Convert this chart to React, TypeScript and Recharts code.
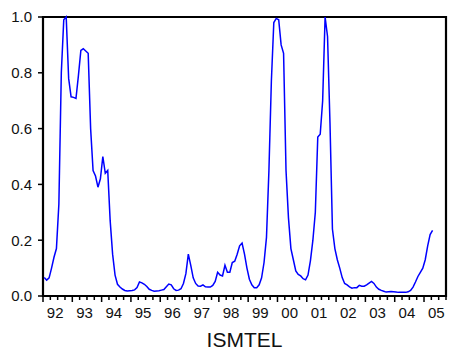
import {
  LineChart,
  Line,
  XAxis,
  YAxis,
  ReferenceArea,
} from "recharts";

// monthly observations, 1992M01 .. 2005M04
const ismtel: number[] = [
  // 1992
  0.066, 0.057, 0.065, 0.1, 0.139, 0.17, 0.33, 0.8, 0.99, 1.0, 0.78, 0.714,
  // 1993
  0.712, 0.708, 0.79, 0.88, 0.886, 0.878, 0.87, 0.6, 0.45, 0.43, 0.39, 0.42,
  // 1994
  0.5, 0.44, 0.45, 0.27, 0.15, 0.075, 0.042, 0.032, 0.025, 0.02, 0.018, 0.019,
  // 1995
  0.02, 0.022, 0.03, 0.05, 0.047, 0.042, 0.034, 0.024, 0.02, 0.017, 0.018, 0.019,
  // 1996
  0.021, 0.023, 0.033, 0.043, 0.04, 0.026, 0.02, 0.021, 0.026, 0.045, 0.08, 0.15,
  // 1997
  0.11, 0.065, 0.045, 0.036, 0.035, 0.04, 0.033, 0.032, 0.032, 0.038, 0.052, 0.085,
  // 1998
  0.075, 0.072, 0.11, 0.085, 0.085, 0.12, 0.125, 0.15, 0.18, 0.19, 0.15, 0.1,
  // 1999
  0.06, 0.04, 0.03, 0.03, 0.04, 0.065, 0.12, 0.21, 0.45, 0.77, 0.98, 0.995,
  // 2000
  0.99, 0.9, 0.87, 0.45, 0.28, 0.17, 0.13, 0.09, 0.077, 0.072, 0.062, 0.058,
  // 2001
  0.075, 0.127, 0.2, 0.3, 0.57, 0.58, 0.7, 1.0, 0.93, 0.62, 0.24, 0.17,
  // 2002
  0.13, 0.1, 0.066, 0.045, 0.04, 0.033, 0.028, 0.03, 0.03, 0.038, 0.035, 0.035,
  // 2003
  0.04, 0.046, 0.052, 0.045, 0.032, 0.024, 0.02, 0.017, 0.014, 0.015, 0.016, 0.015,
  // 2004
  0.014, 0.013, 0.013, 0.013, 0.013, 0.015, 0.02, 0.032, 0.05, 0.07, 0.085, 0.1,
  // 2005
  0.13, 0.18, 0.22, 0.235,
];

const years = ["92", "93", "94", "95", "96", "97", "98", "99", "00", "01", "02", "03", "04", "05"];
const yTicks = [0, 0.2, 0.4, 0.6, 0.8, 1.0];

// sample runs 1992M01 .. 2005M09
const nMonths = 165;

const data = ismtel.map((v, i) => ({ i, v }));

const quarterTicks = Array.from({ length: nMonths / 3 + 1 }, (_, q) => q * 3 - 0.5);
const labelTicks = years.map((_, k) => k * 12 + 4.5);
const xTicks = [...quarterTicks, ...labelTicks];

const PLOT_BOTTOM = 296;

const XTick = (props: any) => {
  const { x, payload } = props;
  const v: number = payload.value;
  const k = labelTicks.indexOf(v);
  if (k >= 0) {
    return (
      <text x={x} y={318} textAnchor="middle" fontSize={15} fill="#111">
        {years[k]}
      </text>
    );
  }
  const major = (v + 0.5) % 12 === 0;
  return (
    <line
      x1={x}
      x2={x}
      y1={PLOT_BOTTOM}
      y2={PLOT_BOTTOM + (major ? 6 : 4)}
      stroke="#000"
      strokeWidth={1.5}
    />
  );
};

const App = () => {
  return (
    <div
      style={{
        position: "absolute",
        left: 0,
        top: 0,
        width: 449,
        height: 358,
        background: "#fff",
        fontFamily: "'Liberation Sans', Arial, sans-serif",
      }}
    >
      <LineChart
        width={449}
        height={358}
        data={data}
        margin={{ top: 17, right: 3, bottom: 0, left: 0 }}
      >
        <XAxis
          dataKey="i"
          type="number"
          domain={[-0.5, nMonths - 0.5]}
          ticks={xTicks}
          interval={0}
          tick={<XTick />}
          tickLine={false}
          axisLine={false}
          height={62}
          label={{
            value: "ISMTEL",
            position: "insideBottom",
            offset: 11,
            fontSize: 21,
            fill: "#111",
          }}
        />
        <YAxis
          type="number"
          domain={[0, 1]}
          ticks={yTicks}
          tickFormatter={(v: number) => v.toFixed(1)}
          width={43}
          tickSize={5}
          tickMargin={6}
          tickLine={{ stroke: "#000", strokeWidth: 1.5 }}
          axisLine={false}
          tick={{ fontSize: 15, fill: "#111" }}
        />
        <ReferenceArea
          x1={-0.5}
          x2={nMonths - 0.5}
          y1={0}
          y2={1}
          fill="none"
          stroke="#000"
          strokeWidth={2.2}
        />
        <Line
          dataKey="v"
          stroke="#0000ff"
          strokeWidth={1.5}
          dot={false}
          isAnimationActive={false}
        />
      </LineChart>
    </div>
  );
};

export default App;
